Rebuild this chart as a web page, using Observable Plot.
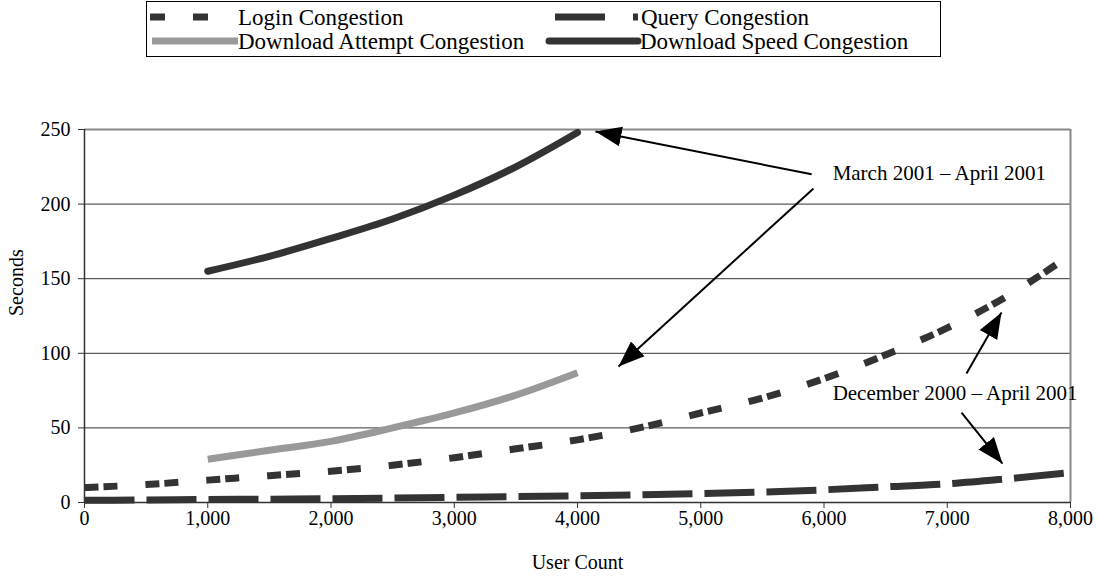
<!DOCTYPE html>
<html>
<head>
<meta charset="utf-8">
<script src="https://cdn.jsdelivr.net/npm/d3@7"></script>
<script src="https://cdn.jsdelivr.net/npm/@observablehq/plot@0.6"></script>
<style>
  html, body { margin: 0; padding: 0; background: #fff; }
  body { width: 1098px; height: 576px; overflow: hidden; font-family: "Liberation Serif", "Times New Roman", serif; }
  svg { display: block; }
</style>
</head>
<body>
<div id="legend"></div>
<div id="chart"></div>
<script>
// ---- Data ----
const userCount = [0, 500, 1000, 1500, 2000, 2500, 3000, 3500, 4000, 4500, 5000, 5500, 6000, 6500, 7000, 7500, 8000];
const loginSeconds = [10, 12, 15, 18, 21, 25, 30, 36, 42, 50, 60, 70, 83, 99, 117, 139, 166];
const querySeconds = [1.5, 1.7, 2, 2.2, 2.5, 3, 3.5, 4, 4.5, 5.2, 6, 7, 8.5, 10.5, 12.5, 16, 20];
const downloadUserCount = [1000, 1500, 2000, 2500, 3000, 3500, 4000];
const attemptSeconds = [29, 35, 41, 50, 60, 72, 87];
const speedSeconds = [155, 165, 177, 190, 206, 225, 248];

const seriesNames = ["Login Congestion", "Query Congestion", "Download Attempt Congestion", "Download Speed Congestion"];
const xTicks = [0, 1000, 2000, 3000, 4000, 5000, 6000, 7000, 8000];
const yTicks = [0, 50, 100, 150, 200, 250];
const gridTicks = [50, 100, 150, 200];

// annotations (data coordinates)
const noteTexts = ["March 2001 \u2013 April 2001", "December 2000 \u2013 April 2001"];
const noteX = [6070, 6070];
const noteY = [221, 73];
const arrowX1 = [5900, 5915, 7156, 7116];
const arrowY1 = [220, 210.5, 86.5, 60.3];
const arrowX2 = [4146, 4333, 7440, 7448];
const arrowY2 = [248.7, 91.2, 127.3, 26.1];

// ---- Build tables ----
const login = userCount.map((u, i) => ({u, s: loginSeconds[i]}));
const query = userCount.map((u, i) => ({u, s: querySeconds[i]}));
const attempt = downloadUserCount.map((u, i) => ({u, s: attemptSeconds[i]}));
const speed = downloadUserCount.map((u, i) => ({u, s: speedSeconds[i]}));
const notes = noteTexts.map((t, i) => ({t, x: noteX[i], y: noteY[i]}));
const arrows = arrowX1.map((x1, i) => ({x1, y1: arrowY1[i], x2: arrowX2[i], y2: arrowY2[i]}));

const DARK = "#333333";
const GRAY = "#999999";
const FONT = "Liberation Serif, Times New Roman, serif";

// ---- Legend ----
const leg = d3.select("#legend").append("svg").attr("width", 1098).attr("height", 60)
  .style("font-family", FONT).style("font-size", "23px");
leg.append("rect").attr("x", 146.5).attr("y", 1.5).attr("width", 794).attr("height", 55)
  .attr("fill", "none").attr("stroke", "#000").attr("stroke-width", 1);
const legItems = [
  {name: seriesNames[0], x1: 150, x2: 212, y: 17, color: DARK, dash: "15,28", tx: 238},
  {name: seriesNames[1], x1: 555, x2: 640, y: 17, color: DARK, dash: "50,28,5,100", tx: 641},
  {name: seriesNames[2], x1: 152, x2: 238, y: 41, color: GRAY, dash: null, tx: 238},
  {name: seriesNames[3], x1: 549, x2: 638, y: 41, color: DARK, dash: null, tx: 640, round: true}
];
for (const it of legItems) {
  leg.append("line").attr("x1", it.x1).attr("x2", it.x2).attr("y1", it.y).attr("y2", it.y)
    .attr("stroke", it.color).attr("stroke-width", 7)
    .attr("stroke-linecap", it.round ? "round" : "butt")
    .attr("stroke-dasharray", it.dash);
  leg.append("text").attr("x", it.tx).attr("y", it.y).attr("dy", "0.35em").attr("fill", "#000").text(it.name);
}

// ---- Chart ----
const chart = Plot.plot({
  width: 1098,
  height: 516,
  marginLeft: 84,
  marginRight: 28,
  marginTop: 69,
  marginBottom: 74,
  style: {fontFamily: FONT, fontSize: "20px", color: "#000", background: "#fff"},
  x: {domain: [0, 8000]},
  y: {domain: [0, 250]},
  marks: [
    Plot.gridY(gridTicks, {stroke: DARK, strokeOpacity: 1, strokeWidth: 1}),
    Plot.ruleY([250], {stroke: "#888", strokeWidth: 2}),
    Plot.ruleX([8000], {stroke: "#888", strokeWidth: 2}),
    Plot.axisX(xTicks, {tickSize: 6, tickPadding: 2, tickFormat: d3.format(","), fontSize: 20, label: null, stroke: DARK}),
    Plot.axisY(yTicks, {tickSize: 6, tickPadding: 8, fontSize: 20, label: null, stroke: DARK}),
    Plot.text(["User Count"], {frameAnchor: "bottom", dy: 66, fontSize: 20, fill: "#000"}),
    Plot.text(["Seconds"], {frameAnchor: "left", dx: -68, rotate: -90, fontSize: 20, fill: "#000"}),
    Plot.ruleX([0], {stroke: DARK, strokeWidth: 1.5}),
    Plot.ruleY([0], {stroke: DARK, strokeWidth: 1.5}),
    Plot.line(query, {x: "u", y: "s", stroke: DARK, strokeWidth: 7, strokeDasharray: "50,12", strokeLinecap: "butt", curve: "monotone-x"}),
    Plot.line(login, {x: "u", y: "s", stroke: DARK, strokeWidth: 7, strokeDasharray: "14,5,14,28", strokeLinecap: "butt", curve: "monotone-x"}),
    Plot.line(attempt, {x: "u", y: "s", stroke: GRAY, strokeWidth: 7, strokeLinecap: "butt", curve: "monotone-x"}),
    Plot.line(speed, {x: "u", y: "s", stroke: DARK, strokeWidth: 7, strokeLinecap: "round", curve: "monotone-x"}),
    Plot.link(arrows, {x1: "x1", y1: "y1", x2: "x2", y2: "y2", stroke: "#000", strokeWidth: 2}),
    Plot.text(notes, {x: "x", y: "y", text: "t", textAnchor: "start", fontSize: 21, fill: "#000"})
  ]
});
document.getElementById("chart").appendChild(chart);

// filled arrowheads
const ns = "http://www.w3.org/2000/svg";
const defs = document.createElementNS(ns, "defs");
const marker = document.createElementNS(ns, "marker");
marker.setAttribute("id", "filledhead");
marker.setAttribute("markerUnits", "userSpaceOnUse");
marker.setAttribute("markerWidth", "28");
marker.setAttribute("markerHeight", "24");
marker.setAttribute("viewBox", "0 -12 28 24");
marker.setAttribute("refX", "26");
marker.setAttribute("refY", "0");
marker.setAttribute("orient", "auto");
const head = document.createElementNS(ns, "path");
head.setAttribute("d", "M0,-10L26,0L0,10Z");
head.setAttribute("fill", "#000");
marker.appendChild(head);
defs.appendChild(marker);
chart.insertBefore(defs, chart.firstChild);
chart.querySelectorAll('g[aria-label="link"] path, g[aria-label="link"] line').forEach(p => p.setAttribute("marker-end", "url(#filledhead)"));
</script>
</body>
</html>
